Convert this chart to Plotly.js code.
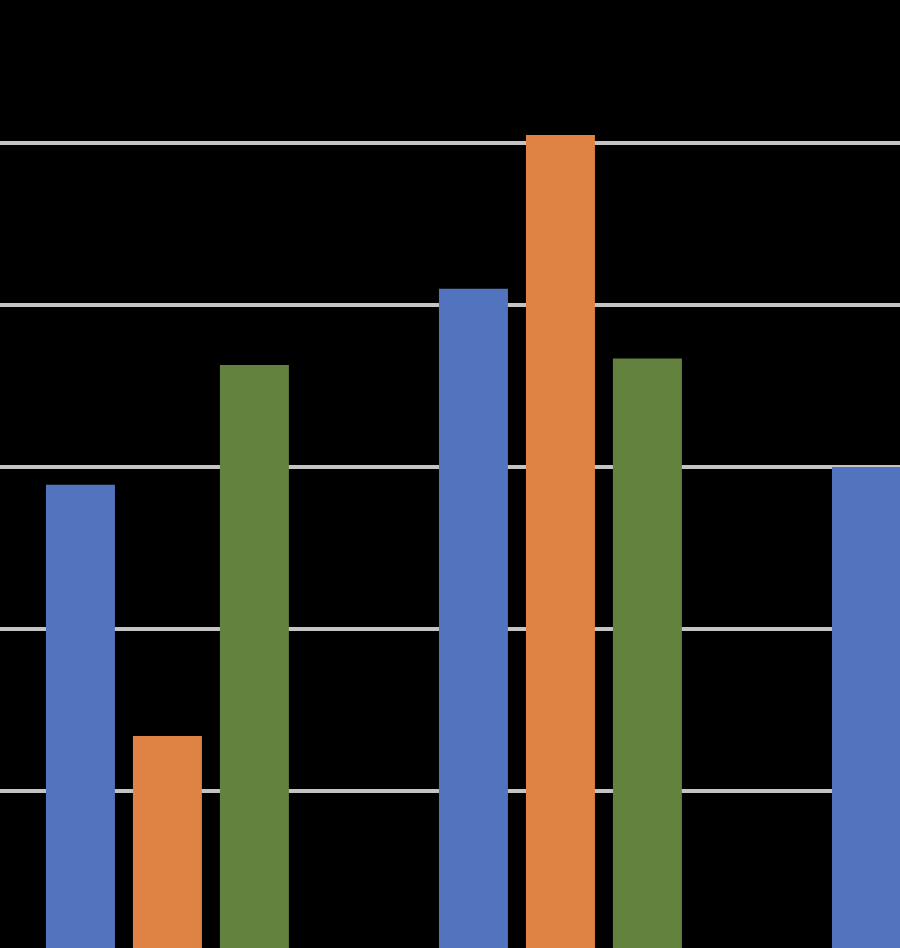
<!DOCTYPE html>
<html>
<head>
<meta charset="utf-8">
<script src="https://cdn.plot.ly/plotly-3.0.1.min.js"></script>
<style>html,body{margin:0;padding:0;background:#000;}#chart{width:900px;height:948px;}</style>
</head>
<body>
<div id="chart"></div>
<script>
var categories = ["Category 1", "Category 2", "Category 3"];
var series1 = [2.89, 4.10, 3.00];
var series2 = [1.34, 5.05, null];
var series3 = [3.63, 3.67, null];
var seriesNames = ["Series 1", "Series 2", "Series 3"];
var seriesColors = ["#5274BF", "#DF8344", "#62823E"];

var data = [series1, series2, series3].map(function (vals, i) {
  return {
    type: "bar",
    x: categories,
    y: vals,
    name: seriesNames[i],
    marker: {color: seriesColors[i], line: {width: 0}},
    hoverinfo: "none"
  };
});

var layout = {
  width: 900,
  height: 948,
  margin: {l: 0, r: 0, t: 0, b: 0, pad: 0},
  paper_bgcolor: "#000000",
  plot_bgcolor: "#000000",
  showlegend: false,
  barmode: "group",
  bargap: 0.336,
  bargroupgap: 0.207,
  xaxis: {
    type: "category",
    range: [-0.426, 1.864],
    showticklabels: false,
    showgrid: false,
    zeroline: false,
    showline: false,
    ticks: ""
  },
  yaxis: {
    range: [0.031, 5.883],
    dtick: 1,
    tick0: 0,
    showticklabels: false,
    showgrid: true,
    gridcolor: "#C4C4C4",
    gridwidth: 4,
    zeroline: false,
    showline: false,
    ticks: ""
  }
};

Plotly.newPlot("chart", data, layout, {staticPlot: true, displayModeBar: false});
</script>
</body>
</html>
